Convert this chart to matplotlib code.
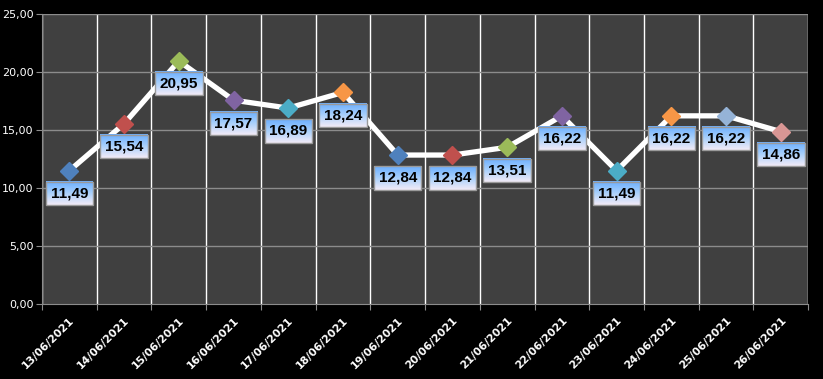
import matplotlib.pyplot as plt
import numpy as np
from matplotlib.colors import LinearSegmentedColormap

# data
dates = ["13/06/2021", "14/06/2021", "15/06/2021", "16/06/2021", "17/06/2021",
         "18/06/2021", "19/06/2021", "20/06/2021", "21/06/2021", "22/06/2021",
         "23/06/2021", "24/06/2021", "25/06/2021", "26/06/2021"]
values = [11.49, 15.54, 20.95, 17.57, 16.89, 18.24, 12.84, 12.84, 13.51,
          16.22, 11.49, 16.22, 16.22, 14.86]
marker_colors = ["#4f81bd", "#c0504d", "#9bbb59", "#8064a2", "#4bacc6", "#f79646",
                 "#4f81bd", "#c0504d", "#9bbb59", "#8064a2", "#4bacc6", "#f79646",
                 "#95b3d7", "#d99694"]


def fmt(v):
    return f"{v:.2f}".replace(".", ",")


fig = plt.figure(figsize=(8.23, 3.79), dpi=100, facecolor="black")
ax = fig.add_axes([0.051, 0.198, 0.931, 0.765])
ax.set_facecolor("#404040")

x = np.arange(len(values))
xlim = (-0.5, len(values) - 0.5)
ylim = (0, 25)
ax.set_xlim(*xlim)
ax.set_ylim(*ylim)

# grid: white verticals at category boundaries, grey horizontals
for b in np.arange(-0.5, len(values), 1.0):
    ax.axvline(b, color="white", lw=1, zorder=1)
for yv in np.arange(5, 26, 5):
    ax.axhline(yv, color="#8c8c8c", lw=1, zorder=1)

ax.plot(x, values, color="white", lw=3.8, zorder=3)

labels = []
for xi, v, c in zip(x, values, marker_colors):
    ax.plot(xi, v, marker="D", ms=9, color=c, mec=c, zorder=4)
    t = ax.annotate(fmt(v), (xi, v), xytext=(0, -16.5), textcoords="offset points",
                    ha="center", va="center", fontsize=11, fontweight="bold",
                    family="Liberation Sans", color="black", zorder=6,
                    bbox=dict(boxstyle="square,pad=0.3", fc="none", ec="#9a9a9a", lw=1))
    labels.append(t)

ax.set_yticks(np.arange(0, 26, 5))
ax.set_yticklabels([fmt(t) for t in np.arange(0, 26, 5)], color="white", fontsize=8)
ax.set_xticks(np.arange(-0.5, len(values), 1.0), minor=False)
ax.set_xticklabels([])
ax.set_xticks(x, minor=True)
ax.set_xticklabels(dates, minor=True, rotation=45, ha="right", rotation_mode="anchor",
                   color="white", fontsize=7.8, fontweight="bold")
ax.tick_params(axis="x", which="minor", length=0, pad=8)
ax.tick_params(axis="x", which="major", length=4, color="#8c8c8c")
ax.tick_params(axis="y", length=4, color="#8c8c8c", pad=2)
for s in ax.spines.values():
    s.set_color("#8c8c8c")
ax.spines["top"].set_visible(False)
ax.spines["right"].set_visible(False)

# gradient fill behind each data label box (blue on top, pale at bottom)
grad = LinearSegmentedColormap.from_list("lbl", ["#6aaeff", "#a9d0fb", "#f3ebf7"])
fig.canvas.draw()
inv = ax.transData.inverted()
for t in labels:
    bb = t.get_bbox_patch().get_window_extent()
    (x0, y0), (x1, y1) = inv.transform([(bb.x0, bb.y0), (bb.x1, bb.y1)])
    ax.imshow(np.linspace(0, 1, 64).reshape(-1, 1), cmap=grad, aspect="auto",
              extent=(x0, x1, y0, y1), origin="upper", zorder=5, clip_on=False)
ax.set_xlim(*xlim)
ax.set_ylim(*ylim)

fig.savefig("out.png", dpi=100, facecolor="black")
